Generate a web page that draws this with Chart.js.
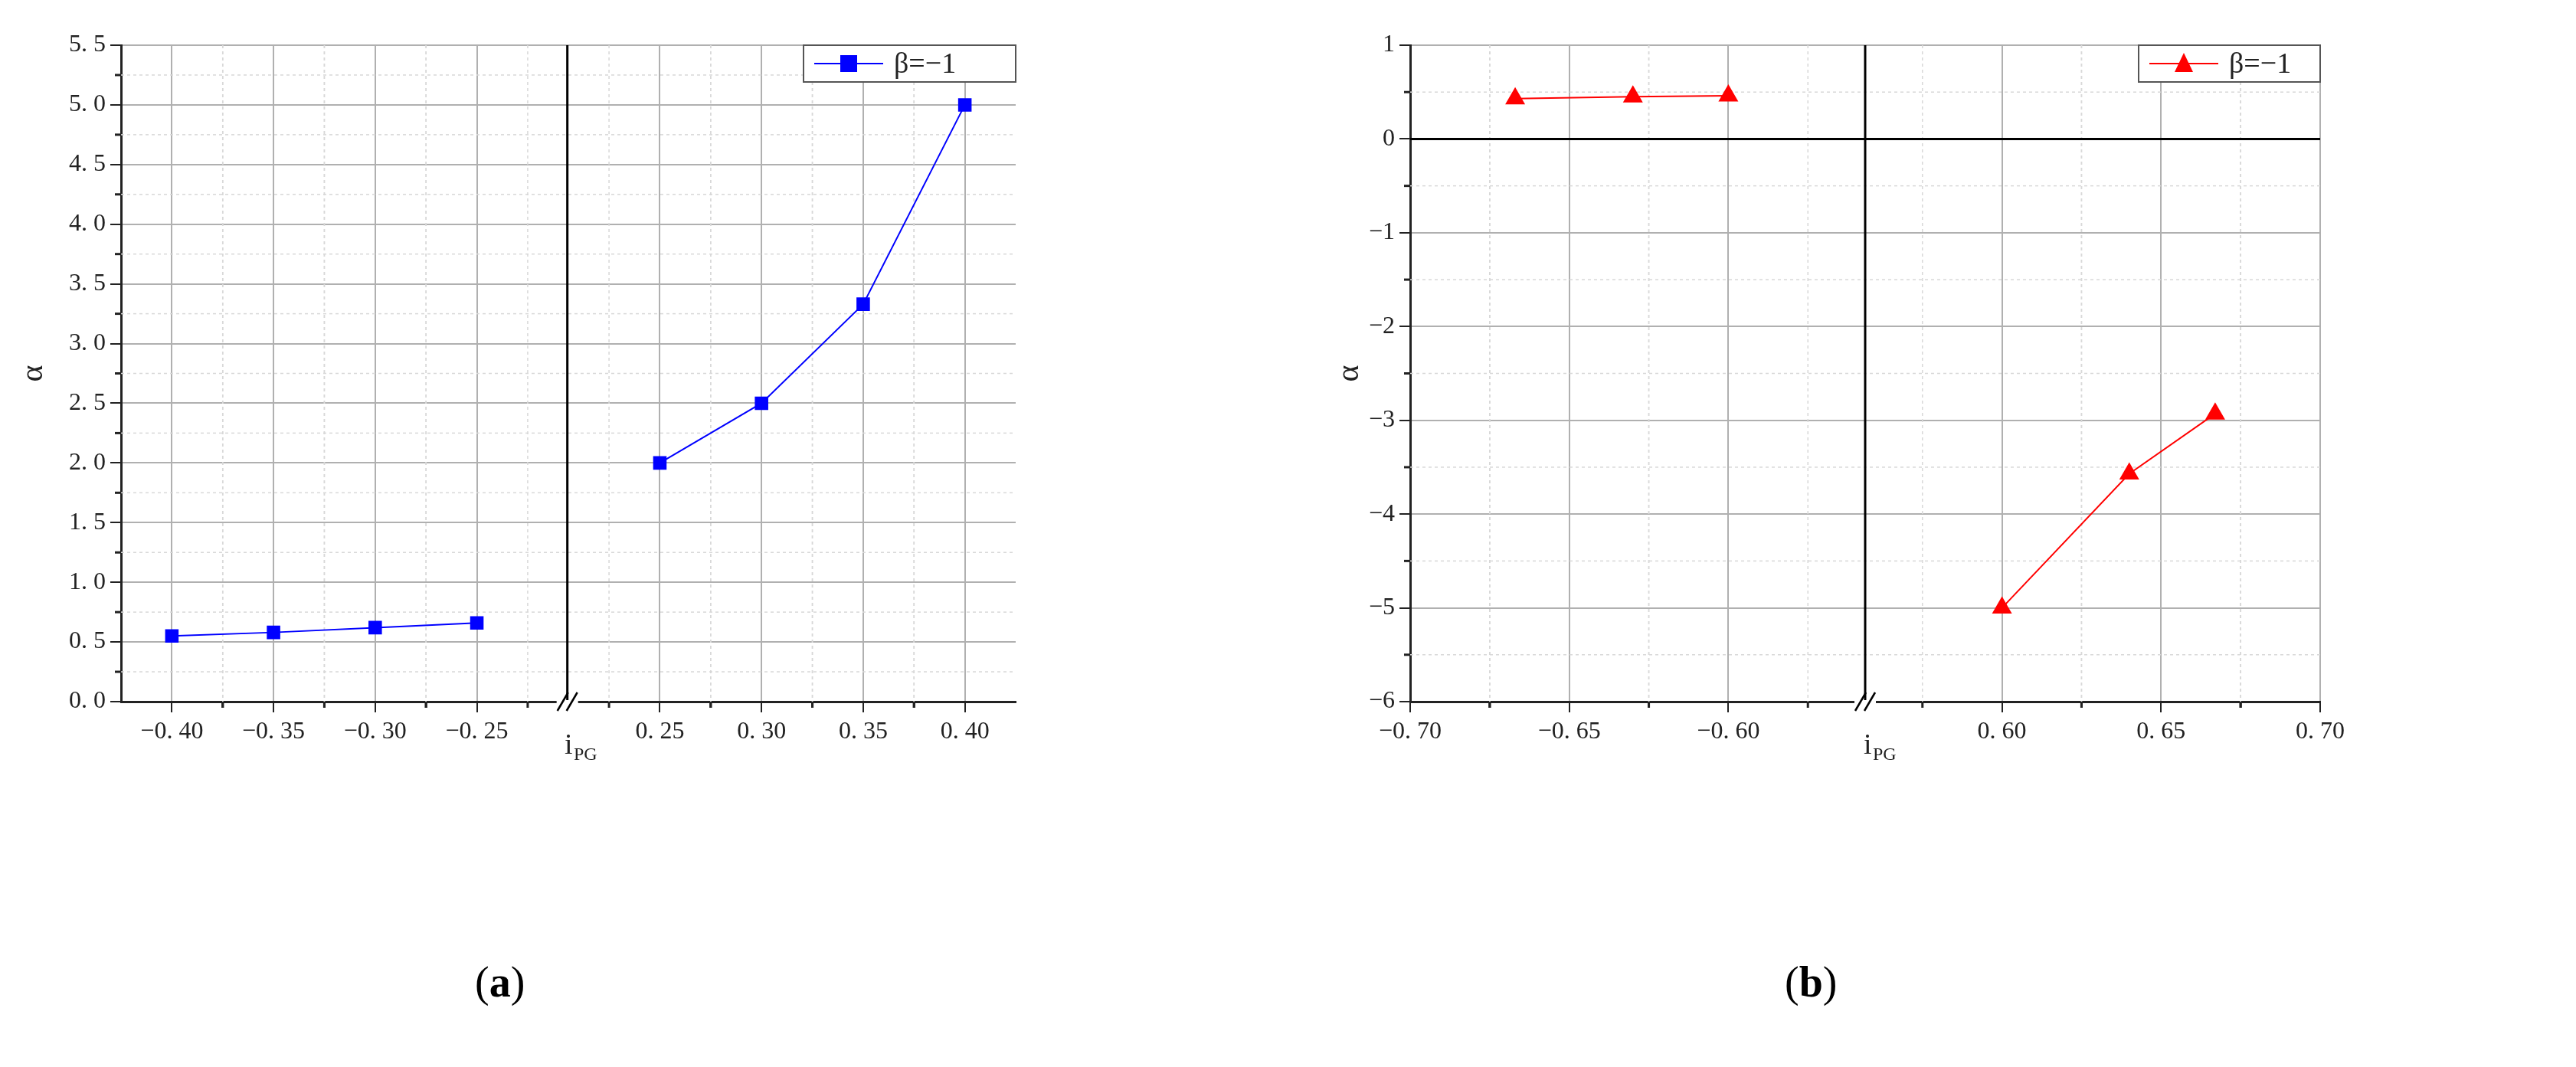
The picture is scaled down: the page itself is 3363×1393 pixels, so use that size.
<!DOCTYPE html>
<html>
<head>
<meta charset="utf-8">
<script src="https://cdn.jsdelivr.net/npm/chart.js@4/dist/chart.umd.min.js"></script>
<style>
  body { margin: 0; background: #fff; width: 3363px; height: 1393px; position: relative; overflow: hidden; }
  .wrap { position: absolute; top: 0; height: 1060px; }
  .cap { position: absolute; top: 1250px; font: 56px "Liberation Serif", serif; }
</style>
</head>
<body>
<div class="wrap" style="left:0;width:1400px"><canvas id="ca"></canvas></div>
<div class="wrap" style="left:1700px;width:1663px"><canvas id="cb"></canvas></div>
<div class="cap" style="left:620px">(<b>a</b>)</div>
<div class="cap" style="left:2330px">(<b>b</b>)</div>
<script>
// panel (a)
var aNegX = [-0.40, -0.35, -0.30, -0.25];
var aNegY = [0.55, 0.58, 0.62, 0.66];
var aPosX = [0.25, 0.30, 0.35, 0.40];
var aPosY = [2.0, 2.5, 3.33, 5.0];
var aXTicks = [-0.40, -0.35, -0.30, -0.25, 0.25, 0.30, 0.35, 0.40];
// panel (b)
var bNegX = [-0.667, -0.63, -0.60];
var bNegY = [0.43, 0.45, 0.46];
var bPosX = [0.60, 0.64, 0.667];
var bPosY = [-5.0, -3.57, -2.93];
var bXTicks = [-0.70, -0.65, -0.60, 0.60, 0.65, 0.70];

var FONT = '"Liberation Serif", serif';

function makeChart(id, cfg) {
  var shift = cfg.shift;
  var tx = function (x) { return x > 0 ? x - shift : x; };
  var pts = [];
  cfg.negX.forEach(function (x, i) { pts.push({ x: tx(x), y: cfg.negY[i] }); });
  pts.push({ x: (tx(cfg.negX[cfg.negX.length - 1]) + tx(cfg.posX[0])) / 2, y: null });
  cfg.posX.forEach(function (x, i) { pts.push({ x: tx(x), y: cfg.posY[i] }); });
  var xMajor = cfg.xTicks.map(tx);
  var xMinor = [];
  xMajor.forEach(function (v) { xMinor.push(v - 0.025, v + 0.025); });
  var ySteps = [];
  for (var v = cfg.yMin; v <= cfg.yMax + 1e-9; v += cfg.yStep) ySteps.push(+v.toFixed(3));

  var deco = {
    id: 'deco',
    beforeDatasetsDraw: function (chart) {
      var c = chart.ctx, a = chart.chartArea, xs = chart.scales.x, ys = chart.scales.y;
      c.save();
      c.strokeStyle = '#d8d8d8'; c.lineWidth = 1.5; c.setLineDash([4, 4]);
      xMinor.forEach(function (v) {
        var p = xs.getPixelForValue(v);
        if (p <= a.left || p >= a.right) return;
        c.beginPath(); c.moveTo(p, a.top); c.lineTo(p, a.bottom); c.stroke();
      });
      ySteps.forEach(function (v) {
        var p = ys.getPixelForValue(v + cfg.yStep / 2);
        if (p <= a.top || p >= a.bottom) return;
        c.beginPath(); c.moveTo(a.left, p); c.lineTo(a.right, p); c.stroke();
      });
      c.setLineDash([]);
      c.strokeStyle = '#222'; c.lineWidth = 3;
      ySteps.forEach(function (v) {
        var p = ys.getPixelForValue(v + cfg.yStep / 2);
        if (p <= a.top) return;
        c.beginPath(); c.moveTo(a.left - 8, p); c.lineTo(a.left, p); c.stroke();
      });
      xMinor.forEach(function (v) {
        var p = xs.getPixelForValue(v);
        if (p <= a.left || p >= a.right) return;
        c.beginPath(); c.moveTo(p, a.bottom); c.lineTo(p, a.bottom + 8); c.stroke();
      });
      var bx = xs.getPixelForValue(cfg.breakX);
      c.strokeStyle = '#000'; c.lineWidth = 3;
      c.beginPath(); c.moveTo(bx, a.top); c.lineTo(bx, a.bottom); c.stroke();
      if (cfg.zeroLine) {
        var zy = ys.getPixelForValue(0);
        c.beginPath(); c.moveTo(a.left, zy); c.lineTo(a.right, zy); c.stroke();
      }
      c.restore();
    },
    afterDraw: function (chart) {
      var c = chart.ctx, a = chart.chartArea, xs = chart.scales.x;
      var bx = xs.getPixelForValue(cfg.breakX);
      c.save();
      c.fillStyle = '#fff'; c.fillRect(bx - 14, a.bottom - 2, 28, 6);
      c.strokeStyle = '#000'; c.lineWidth = 2.5;
      [-6, 6].forEach(function (d) {
        c.beginPath(); c.moveTo(bx + d - 7, a.bottom + 12); c.lineTo(bx + d + 7, a.bottom - 12); c.stroke();
      });
      c.fillStyle = '#222'; c.textBaseline = 'middle';
      c.font = '38px ' + FONT; c.textAlign = 'left';
      var tX = a.left + (a.right - a.left) / 2 + cfg.titleDX;
      c.fillText('i', tX, a.bottom + 58);
      c.font = '24px ' + FONT;
      c.fillText('PG', tX + 12, a.bottom + 70);
      c.save();
      c.translate(cfg.alphaX, (a.top + a.bottom) / 2);
      c.rotate(-Math.PI / 2);
      c.font = '42px ' + FONT; c.textAlign = 'center';
      c.fillText('α', 0, 0);
      c.restore();
      var lw = cfg.legendW, lh = 48, lx = a.right - lw, ly = a.top;
      c.fillStyle = '#fff'; c.fillRect(lx, ly, lw, lh);
      c.strokeStyle = '#555'; c.lineWidth = 2; c.strokeRect(lx, ly, lw, lh);
      c.strokeStyle = cfg.color; c.lineWidth = 2;
      c.beginPath(); c.moveTo(lx + 14, ly + lh / 2); c.lineTo(lx + 104, ly + lh / 2); c.stroke();
      c.fillStyle = cfg.color;
      if (cfg.marker === 'rect') c.fillRect(lx + 48, ly + lh / 2 - 11, 22, 22);
      else { c.beginPath(); c.moveTo(lx + 59, ly + 10); c.lineTo(lx + 71, ly + 35); c.lineTo(lx + 47, ly + 35); c.closePath(); c.fill(); }
      c.fillStyle = '#222'; c.font = '38px ' + FONT; c.textAlign = 'left';
      c.fillText('β=−1', lx + 118, ly + lh / 2 + 2);
      c.restore();
    }
  };

  return new Chart(document.getElementById(id), {
    type: 'line',
    data: { datasets: [{
      data: pts, borderColor: cfg.color, backgroundColor: cfg.color, borderWidth: 2,
      pointStyle: cfg.marker, pointRadius: cfg.marker === 'rect' ? 11 : 13, spanGaps: false
    }] },
    options: {
      responsive: true, maintainAspectRatio: false, animation: false,
      layout: { padding: { top: 59, right: cfg.padRight, left: 0, bottom: 0 } },
      plugins: { legend: { display: false }, tooltip: { enabled: false } },
      scales: {
        x: {
          type: 'linear', min: cfg.xMin, max: cfg.xMax,
          afterBuildTicks: function (s) { s.ticks = xMajor.map(function (v) { return { value: v }; }); },
          afterFit: function (s) { s.height = 144; },
          ticks: {
            font: { family: FONT, size: 32 }, color: '#222', padding: 6,
            callback: function (v) {
              var real = v < cfg.breakX ? v : v + shift;
              return (real < 0 ? '−' : '') + Math.abs(real).toFixed(2).replace('.', '. ');
            }
          },
          grid: { color: '#b0b0b0', lineWidth: 2, tickLength: 14, tickColor: '#222' },
          border: { color: '#222', width: 3 }
        },
        y: {
          min: cfg.yMin, max: cfg.yMax,
          afterBuildTicks: function (s) { s.ticks = ySteps.map(function (v) { return { value: v }; }); },
          afterFit: function (s) { s.width = cfg.yWidth; },
          ticks: {
            font: { family: FONT, size: 32 }, color: '#222', padding: 6,
            callback: function (v) { return cfg.yFmt(v); }
          },
          grid: { color: '#b0b0b0', lineWidth: 2, tickLength: 14, tickColor: '#222' },
          border: { color: '#222', width: 3 }
        }
      }
    },
    plugins: [deco]
  });
}

makeChart('ca', {
  negX: aNegX, negY: aNegY, posX: aPosX, posY: aPosY, xTicks: aXTicks,
  shift: 0.41, breakX: -0.2055, xMin: -0.425, xMax: 0.015,
  yMin: 0, yMax: 5.5, yStep: 0.5, yWidth: 158, padRight: 74,
  yFmt: function (v) { return v.toFixed(1).replace('.', '. '); },
  color: '#0000ff', marker: 'rect', legendW: 277, titleDX: -5, alphaX: 44, zeroLine: false
});
makeChart('cb', {
  negX: bNegX, negY: bNegY, posX: bPosX, posY: bPosY, xTicks: bXTicks,
  shift: 1.114, breakX: -0.557, xMin: -0.70, xMax: -0.414,
  yMin: -6, yMax: 1, yStep: 1, yWidth: 141, padRight: 334,
  yFmt: function (v) { return (v < 0 ? '−' : '') + Math.abs(v); },
  color: '#ff0000', marker: 'triangle', legendW: 237, titleDX: -2, alphaX: 62, zeroLine: true
});
</script>
</body>
</html>
